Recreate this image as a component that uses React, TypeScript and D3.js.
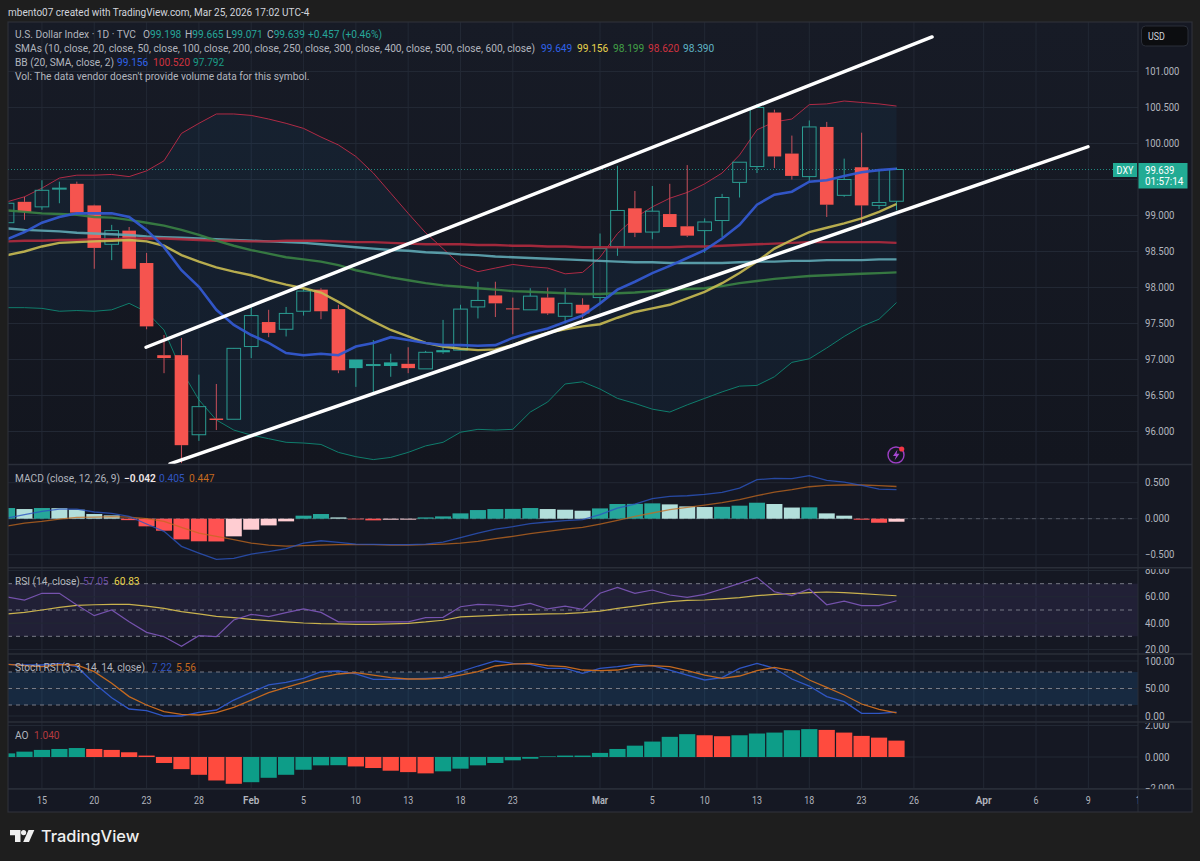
import * as d3 from 'd3';

// bars run Jan 13 .. Mar 25, daily (index 0 = Jan 13)
const opens = [98.90, 99.19, 99.12, 99.37, 99.44, 99.14, 98.60, 98.79, 98.34, 97.06, 97.06, 95.955, 96.18, 96.17, 97.18, 97.52, 97.42, 97.67, 97.97, 97.70, 96.88, 96.92, 96.91, 96.94, 96.87, 97.10, 97.13, 97.73, 97.89, 97.71, 97.69, 97.86, 97.60, 97.76, 97.86, 98.57, 99.10, 98.77, 99.02, 98.85, 98.79, 98.93, 99.46, 99.68, 100.43, 99.86, 99.54, 100.23, 99.28, 99.67, 99.14, 99.198];
const highs = [99.26, 99.26, 99.49, 99.47, 99.47, 99.15, 98.87, 98.84, 98.48, 97.34, 97.30, 96.79, 96.66, 97.16, 97.73, 97.69, 97.73, 97.98, 97.99, 97.76, 97.00, 97.27, 97.08, 97.17, 97.12, 97.55, 97.76, 98.08, 98.08, 97.86, 97.99, 98.00, 97.99, 97.85, 98.75, 99.69, 99.34, 99.41, 99.44, 99.70, 98.96, 99.30, 99.74, 100.55, 100.47, 100.11, 100.32, 100.30, 99.79, 100.15, 99.63, 99.665];
const lows = [98.88, 98.94, 99.08, 99.17, 99.01, 98.26, 98.38, 98.26, 97.42, 96.81, 95.56, 95.87, 96.02, 96.17, 97.02, 97.31, 97.32, 97.61, 97.56, 96.81, 96.62, 96.53, 96.76, 96.81, 96.87, 97.08, 97.13, 97.57, 97.59, 97.35, 97.69, 97.62, 97.50, 97.57, 97.78, 98.44, 98.70, 98.67, 98.84, 98.70, 98.48, 98.70, 99.25, 99.59, 99.66, 99.50, 99.48, 98.98, 99.26, 98.89, 99.09, 99.071];
const closes = [99.17, 99.05, 99.35, 99.38, 99.04, 98.55, 98.79, 98.26, 97.46, 97.02, 95.81, 96.345, 96.16, 97.155, 97.61, 97.37, 97.64, 97.95, 97.67, 96.85, 97.00, 96.93, 96.96, 96.88, 97.10, 97.13, 97.70, 97.82, 97.78, 97.70, 97.88, 97.64, 97.78, 97.64, 98.54, 99.07, 98.76, 99.06, 98.84, 98.72, 98.91, 99.25, 99.74, 100.50, 99.82, 99.55, 100.23, 99.15, 99.50, 99.14, 99.18, 99.639];
const solidUpBars = [20, 22, 25];

const sma10 = [98.67, 98.77, 98.90, 98.98, 99.03, 99.03, 99.03, 98.98, 98.80, 98.56, 98.24, 98.01, 97.69, 97.48, 97.34, 97.23, 97.09, 97.06, 97.08, 97.06, 97.18, 97.23, 97.31, 97.27, 97.23, 97.20, 97.20, 97.19, 97.20, 97.30, 97.37, 97.43, 97.52, 97.61, 97.78, 97.97, 98.08, 98.20, 98.30, 98.41, 98.52, 98.68, 98.87, 99.15, 99.29, 99.33, 99.47, 99.49, 99.55, 99.60, 99.63, 99.65];
const sma20 = [98.45, 98.50, 98.57, 98.62, 98.63, 98.64, 98.65, 98.66, 98.64, 98.58, 98.45, 98.36, 98.28, 98.22, 98.17, 98.10, 98.04, 97.99, 97.93, 97.80, 97.66, 97.53, 97.41, 97.32, 97.23, 97.18, 97.15, 97.13, 97.14, 97.20, 97.30, 97.37, 97.42, 97.46, 97.49, 97.58, 97.66, 97.71, 97.76, 97.85, 97.94, 98.06, 98.20, 98.36, 98.54, 98.66, 98.77, 98.83, 98.89, 98.96, 99.05, 99.16];
const sma50 = [99.07, 99.05, 99.03, 99.02, 99.01, 98.98, 98.97, 98.94, 98.90, 98.86, 98.80, 98.73, 98.65, 98.58, 98.52, 98.47, 98.42, 98.39, 98.36, 98.31, 98.24, 98.19, 98.14, 98.10, 98.06, 98.03, 98.01, 97.99, 97.97, 97.95, 97.94, 97.93, 97.92, 97.91, 97.91, 97.92, 97.93, 97.95, 97.97, 97.98, 97.99, 98.02, 98.06, 98.09, 98.12, 98.14, 98.16, 98.17, 98.18, 98.19, 98.20, 98.21];
const sma100 = [98.64, 98.65, 98.65, 98.66, 98.66, 98.67, 98.67, 98.68, 98.68, 98.68, 98.67, 98.66, 98.65, 98.65, 98.64, 98.64, 98.65, 98.65, 98.65, 98.64, 98.63, 98.63, 98.62, 98.61, 98.60, 98.60, 98.60, 98.59, 98.59, 98.58, 98.58, 98.57, 98.57, 98.56, 98.56, 98.56, 98.56, 98.56, 98.56, 98.57, 98.57, 98.58, 98.59, 98.60, 98.61, 98.62, 98.63, 98.63, 98.63, 98.63, 98.63, 98.62];
const sma200 = [98.82, 98.80, 98.79, 98.78, 98.76, 98.75, 98.74, 98.73, 98.71, 98.70, 98.69, 98.68, 98.67, 98.66, 98.65, 98.64, 98.63, 98.62, 98.60, 98.58, 98.56, 98.54, 98.52, 98.51, 98.49, 98.48, 98.46, 98.45, 98.43, 98.42, 98.41, 98.40, 98.39, 98.38, 98.37, 98.36, 98.35, 98.35, 98.34, 98.34, 98.34, 98.34, 98.35, 98.36, 98.36, 98.37, 98.37, 98.38, 98.38, 98.38, 98.39, 98.39];
const bbUpper = [99.19, 99.26, 99.38, 99.52, 99.56, 99.56, 99.57, 99.54, 99.62, 99.76, 100.14, 100.28, 100.41, 100.41, 100.39, 100.34, 100.28, 100.21, 100.09, 99.98, 99.82, 99.59, 99.31, 99.03, 98.76, 98.54, 98.31, 98.22, 98.27, 98.32, 98.29, 98.27, 98.19, 98.21, 98.42, 98.75, 98.97, 99.12, 99.24, 99.32, 99.44, 99.59, 99.84, 100.19, 100.30, 100.34, 100.54, 100.55, 100.59, 100.57, 100.55, 100.52];
const bbLower = [97.72, 97.72, 97.71, 97.67, 97.68, 97.67, 97.69, 97.78, 97.66, 97.41, 96.85, 96.44, 96.16, 96.02, 95.95, 95.90, 95.85, 95.84, 95.82, 95.71, 95.65, 95.61, 95.64, 95.71, 95.80, 95.85, 95.99, 96.03, 96.02, 96.03, 96.27, 96.41, 96.66, 96.69, 96.59, 96.46, 96.39, 96.31, 96.27, 96.37, 96.46, 96.55, 96.63, 96.64, 96.76, 96.96, 97.01, 97.16, 97.32, 97.46, 97.56, 97.79];

const macdHist = [0.148, 0.134, 0.148, 0.146, 0.125, 0.065, 0.046, -0.02, -0.106, -0.167, -0.287, -0.314, -0.316, -0.245, -0.153, -0.093, -0.037, 0.042, 0.065, 0.018, -0.01, -0.023, -0.014, -0.013, 0.018, 0.032, 0.074, 0.12, 0.134, 0.136, 0.148, 0.134, 0.125, 0.111, 0.143, 0.204, 0.206, 0.213, 0.199, 0.171, 0.162, 0.165, 0.181, 0.222, 0.204, 0.155, 0.158, 0.074, 0.042, -0.014, -0.056, -0.042];
const macdLine = [0.01, 0.056, 0.102, 0.134, 0.134, 0.093, 0.074, 0.032, -0.074, -0.176, -0.384, -0.477, -0.565, -0.551, -0.491, -0.458, -0.417, -0.338, -0.306, -0.329, -0.352, -0.356, -0.361, -0.361, -0.352, -0.324, -0.264, -0.199, -0.144, -0.111, -0.069, -0.046, -0.028, -0.014, 0.056, 0.148, 0.204, 0.278, 0.31, 0.319, 0.338, 0.366, 0.426, 0.542, 0.56, 0.556, 0.597, 0.532, 0.509, 0.463, 0.412, 0.405];
const macdSignal = [-0.102, -0.06, -0.037, -0.005, 0.019, 0.023, 0.028, 0.023, 0, -0.037, -0.12, -0.199, -0.245, -0.292, -0.338, -0.366, -0.38, -0.375, -0.366, -0.361, -0.361, -0.361, -0.366, -0.366, -0.361, -0.352, -0.338, -0.315, -0.278, -0.245, -0.208, -0.176, -0.144, -0.12, -0.074, -0.023, 0.032, 0.079, 0.125, 0.157, 0.19, 0.222, 0.264, 0.319, 0.37, 0.403, 0.444, 0.463, 0.468, 0.468, 0.458, 0.447];

const rsi = [60, 57.6, 62.7, 62.7, 53.8, 45.7, 50, 41, 33, 29.7, 22.4, 30.5, 29.7, 42.4, 46.7, 44.9, 48, 50.8, 48.2, 41, 41, 41, 41, 41, 44.2, 44.4, 52.5, 54.3, 53.8, 52.5, 55, 50.8, 53, 50.5, 62.7, 67.2, 62.7, 65.2, 61.4, 59.6, 61.9, 66, 70.3, 74.8, 63.9, 60.9, 66, 54, 56.8, 53.3, 53.3, 57.05];
const rsiMa = [47, 48.2, 50, 52, 53.5, 54, 54.3, 54.3, 53, 51.3, 48.7, 47, 45.2, 44.2, 42.9, 41.9, 40.9, 40.1, 39.6, 39.4, 39.1, 39.1, 39.4, 39.9, 40.9, 42.2, 44.7, 45.4, 45.9, 46.5, 46.7, 47, 47.2, 48, 49.2, 51.3, 53, 54.8, 56.3, 57.3, 57.6, 58.4, 59.4, 60.9, 61.9, 62.4, 63.2, 63.7, 63.2, 62.4, 61.6, 60.83];

const stochK = [94, 92.7, 92.7, 95.8, 89.7, 59.4, 33.3, 12.7, 9.7, 0, 0, 6.7, 10.9, 29, 43, 56.4, 61.2, 68.5, 80.6, 81.8, 76.4, 66.7, 66.7, 67.3, 68.5, 70.3, 80.6, 90.9, 100, 95.8, 93.9, 86.7, 86.7, 77.6, 86.7, 89.7, 93.9, 91.5, 83.6, 74.5, 65.5, 69.7, 86.7, 95.8, 86.7, 67.3, 54.5, 35.2, 26, 4.8, 4.8, 7.22];
const stochD = [94, 91.5, 89.7, 93.3, 92.7, 80.6, 59.4, 35.2, 20, 7.9, 3, 1.8, 6, 15.8, 29, 42.4, 52, 61.2, 70.3, 76.4, 78.8, 74.5, 69.7, 67.3, 67.3, 69, 74.5, 80.6, 90.9, 94.5, 95.8, 91.5, 89.7, 83.6, 82.4, 83.6, 89.7, 91.5, 89.7, 82.4, 74.5, 68.5, 72.7, 82.4, 88.5, 82.4, 65.5, 52, 38.2, 21.8, 12.1, 5.56];

const ao = [0.23, 0.34, 0.45, 0.51, 0.57, 0.51, 0.45, 0.3, 0.09, -0.38, -0.77, -1.13, -1.49, -1.7, -1.6, -1.32, -1.13, -0.81, -0.53, -0.52, -0.6, -0.7, -0.87, -0.96, -1.04, -0.91, -0.74, -0.53, -0.38, -0.21, -0.11, 0.04, 0.09, 0.09, 0.26, 0.51, 0.72, 0.98, 1.28, 1.45, 1.38, 1.32, 1.38, 1.49, 1.55, 1.7, 1.77, 1.72, 1.55, 1.34, 1.23, 1.04];

// trendlines as [bar, price]
const upperChannel = [[7.97, 97.17], [53.04, 101.48]];
const lowerChannel = [[9.34, 95.55], [61.98, 99.955]];

const timeTicks = ['15', '20', '23', '28', 'Feb', '5', '10', '13', '18', '23', 'Mar', '5', '10', '13', '18', '23', '26', 'Apr', '6', '9', '14'];
const timeTickBars = [2, 5, 8, 11, 14, 17, 20, 23, 26, 29, 34, 37, 40, 43, 46, 49, 52, 56, 59, 62, 65];
const priceTicks = [101, 100.5, 100, 99.5, 99, 98.5, 98, 97.5, 97, 96.5, 96];
const priceLabels = [101, 100.5, 100, 99, 98.5, 98, 97.5, 97, 96.5, 96];
const macdTicks = [0.5, 0, -0.5];
const rsiTicks = [80, 60, 40, 20];
const stochTicks = [100, 50, 0];
const aoTicks = [2, 0, -2];

const LEFT = 8;
const AXIS = 1138;
const RIGHT = 1192;
const font = 'Roboto, "Liberation Sans", sans-serif';
const TEAL = '#26a69a';
const RED = '#f5544f';
const LEGEND = 10.2;

const x = d3.scaleLinear().domain([0, 51]).range([7.06, 896.5]);
const yMain = d3.scaleLinear().domain([96, 101]).range([431.5, 71.5]);
const yMacd = d3.scaleLinear().domain([-0.5, 0.5]).range([554.7, 482.7]);
const yRsi = d3.scaleLinear().domain([30, 70]).range([636.3, 583.7]);
const yStoch = d3.scaleLinear().domain([0, 100]).range([716, 661]);
const yAo = d3.scaleLinear().domain([-2, 2]).range([788.5, 725.5]);

const pathOf = (values: number[], y: d3.ScaleLinear<number, number>) =>
  d3.line<number>().x((_, i) => x(i)).y(v => y(v))(values) || '';

const bandPath = d3.area<number>()
  .x((_, i) => x(i))
  .y0((_, i) => yMain(bbLower[i]))
  .y1(v => yMain(v))(bbUpper) || '';

const trendPath = (pts: number[][]) =>
  d3.line<number[]>().x(d => x(d[0])).y(d => yMain(d[1]))(pts) || '';

const macdColor = (v: number, i: number) => {
  const prev = i > 0 ? macdHist[i - 1] : -1;
  if (v >= 0) return v > prev ? '#26a69a' : '#b2dfdb';
  return v < prev ? '#ff5252' : '#ffcdd2';
};

const Txt = ({ x: tx, y, c = '#b2b5be', w = 400, children }: any) => (
  <text x={tx} y={y} fill={c} fontSize={LEGEND} fontWeight={w} dominantBaseline="central">
    {children}
  </text>
);

// axis digits in the picture are narrower than Roboto, so squeeze them a little
const AxisTxt = ({ x: tx = 1145, y, c = '#b2b5be', clip, anchor, w = 400, per = 4.9, children }: any) => (
  <text
    x={tx}
    y={y}
    fill={c}
    fontSize={10.6}
    fontWeight={w}
    clipPath={clip}
    textAnchor={anchor}
    dominantBaseline="central"
    textLength={String(children).length * per}
    lengthAdjust="spacingAndGlyphs"
  >
    {children}
  </text>
);

const Candles = () => (
  <g>
    {closes.map((c, i) => {
      const o = opens[i];
      const up = c >= o;
      const color = up ? TEAL : RED;
      const wick = up ? '#2b9d92' : '#c9505b';
      const top = yMain(Math.max(o, c));
      const bottom = yMain(Math.min(o, c));
      const px = x(i);
      const solid = !up || solidUpBars.includes(i);
      return (
        <g key={i}>
          <line x1={px} x2={px} y1={yMain(highs[i])} y2={top} stroke={wick} />
          <line x1={px} x2={px} y1={bottom} y2={yMain(lows[i])} stroke={wick} />
          <rect
            x={px - 6.8}
            y={top}
            width={13.6}
            height={Math.max(bottom - top, 1)}
            fill={solid ? color : 'none'}
            stroke={solid ? 'none' : '#2b9d92'}
          />
        </g>
      );
    })}
  </g>
);

const Dash = ({ y }: { y: number }) => (
  <line x1={LEFT} x2={AXIS - 4} y1={y} y2={y} stroke="#787b86" strokeDasharray="4 4" />
);

const HGrid = ({ ys }: { ys: number[] }) => (
  <g>
    {ys.map(y => <line key={y} x1={LEFT} x2={AXIS} y1={y} y2={y} stroke="#222834" />)}
  </g>
);

export default function App() {
  return (
    <svg
      width={1200}
      height={861}
      style={{ position: 'absolute', left: 0, top: 0, fontFamily: font }}
    >
      <defs>
        <clipPath id="main"><rect x={LEFT} y={22} width={AXIS - LEFT} height={442} /></clipPath>
        <clipPath id="macd"><rect x={LEFT} y={465} width={AXIS - LEFT} height={103} /></clipPath>
        <clipPath id="rsi"><rect x={LEFT} y={569} width={AXIS - LEFT} height={85} /></clipPath>
        <clipPath id="stoch"><rect x={LEFT} y={655} width={AXIS - LEFT} height={67} /></clipPath>
        <clipPath id="aop"><rect x={LEFT} y={723} width={AXIS - LEFT} height={66} /></clipPath>
        <clipPath id="times"><rect x={LEFT} y={790} width={AXIS - LEFT} height={22} /></clipPath>
        <clipPath id="axRsi"><rect x={AXIS} y={569} width={54} height={85} /></clipPath>
        <clipPath id="axAo"><rect x={AXIS} y={723} width={54} height={66} /></clipPath>
        <linearGradient id="bg" x1="0" x2="0" y1="0" y2="1">
          <stop offset="0" stopColor="#171b26" />
          <stop offset="1" stopColor="#13161f" />
        </linearGradient>
      </defs>

      <rect width={1200} height={861} fill="#1e1e1e" />
      <rect x={LEFT} y={22} width={RIGHT - LEFT} height={790} fill="#151823" />
      <rect x={LEFT} y={22} width={AXIS - LEFT} height={442} fill="url(#bg)" />
      <text x={8} y={12} fill="#d1d4dc" fontSize={10} dominantBaseline="central">
        mbento07 created with TradingView.com, Mar 25, 2026 17:02 UTC-4
      </text>

      {/* vertical grid */}
      {timeTickBars.map((b, i) => (
        <line key={i} x1={x(b)} x2={x(b)} y1={22} y2={789} stroke="#222834" opacity={x(b) > AXIS ? 0 : 1} />
      ))}

      {/* main pane */}
      <HGrid ys={priceTicks.map(v => yMain(v))} />
      <g clipPath="url(#main)">
        <path d={bandPath} fill="#2196f3" opacity={0.06} />
        <line x1={LEFT} x2={1113} y1={yMain(99.639)} y2={yMain(99.639)} stroke="#26a69a" strokeDasharray="1 2" opacity={0.8} />
        <path d={pathOf(bbUpper, yMain)} fill="none" stroke="#b02a45" strokeWidth={1} />
        <path d={pathOf(bbLower, yMain)} fill="none" stroke="#0f7d6c" strokeWidth={1} />
        <Candles />
        <path d={pathOf(sma200, yMain)} fill="none" stroke="#5fa8b5" strokeWidth={2.4} opacity={0.9} />
        <path d={pathOf(sma100, yMain)} fill="none" stroke="#b02a3e" strokeWidth={2.4} opacity={0.9} />
        <path d={pathOf(sma50, yMain)} fill="none" stroke="#3a8244" strokeWidth={2.4} opacity={0.9} />
        <path d={pathOf(sma20, yMain)} fill="none" stroke="#c9bb52" strokeWidth={2.4} opacity={0.9} />
        <path d={pathOf(sma10, yMain)} fill="none" stroke="#3359cf" strokeWidth={2.6} opacity={0.95} />
        <path d={trendPath(upperChannel)} fill="none" stroke="#fff" strokeWidth={3.4} strokeLinecap="round" />
        <path d={trendPath(lowerChannel)} fill="none" stroke="#fff" strokeWidth={3.4} strokeLinecap="round" />
      </g>

      {/* bolt badge */}
      <circle cx={896} cy={455} r={8} fill="none" stroke="#9c3fc4" strokeWidth={1.4} />
      <path d="M897.5 449.5 L893 456 L896 456 L894.5 460.5 L899.5 453.8 L896.5 453.8 Z" fill="#a648d0" />
      <circle cx={901.7} cy={449} r={2.6} fill="#f23645" />

      {/* macd */}
      <HGrid ys={macdTicks.map(v => yMacd(v))} />
      <g clipPath="url(#macd)">
        <line x1={LEFT} x2={AXIS - 4} y1={yMacd(0)} y2={yMacd(0)} stroke="#787b86" strokeDasharray="4 4" opacity={0.6} />
        {macdHist.map((v, i) => (
          <rect
            key={i}
            x={x(i) - 8}
            y={Math.min(yMacd(v), yMacd(0))}
            width={16}
            height={Math.abs(yMacd(v) - yMacd(0))}
            fill={macdColor(v, i)}
          />
        ))}
        <path d={pathOf(macdSignal, yMacd)} fill="none" stroke="#c46a1f" strokeWidth={1.3} opacity={0.75} />
        <path d={pathOf(macdLine, yMacd)} fill="none" stroke="#2c55c0" strokeWidth={1.3} opacity={0.8} />
      </g>

      {/* rsi */}
      <rect x={LEFT} y={yRsi(70)} width={AXIS - LEFT} height={yRsi(30) - yRsi(70)} fill="#7e57c2" opacity={0.12} />
      <HGrid ys={rsiTicks.map(v => yRsi(v))} />
      <Dash y={yRsi(70)} />
      <Dash y={yRsi(50)} />
      <Dash y={yRsi(30)} />
      <g clipPath="url(#rsi)">
        <path d={pathOf(rsiMa, yRsi)} fill="none" stroke="#c9b24e" strokeWidth={1.2} />
        <path d={pathOf(rsi, yRsi)} fill="none" stroke="#7552ad" strokeWidth={1.2} />
      </g>

      {/* stoch rsi */}
      <rect x={LEFT} y={yStoch(80)} width={AXIS - LEFT} height={yStoch(20) - yStoch(80)} fill="#2196f3" opacity={0.14} />
      <HGrid ys={stochTicks.map(v => yStoch(v))} />
      <Dash y={yStoch(80)} />
      <Dash y={yStoch(50)} />
      <Dash y={yStoch(20)} />
      <g clipPath="url(#stoch)">
        <path d={pathOf(stochK, yStoch)} fill="none" stroke="#2f56c4" strokeWidth={1.3} />
        <path d={pathOf(stochD, yStoch)} fill="none" stroke="#c4691f" strokeWidth={1.3} />
      </g>

      {/* awesome oscillator */}
      <HGrid ys={aoTicks.map(v => yAo(v))} />
      <g clipPath="url(#aop)">
        {ao.map((v, i) => (
          <rect
            key={i}
            x={x(i) - 8.1}
            y={Math.min(yAo(v), yAo(0))}
            width={16.2}
            height={Math.abs(yAo(v) - yAo(0))}
            fill={i === 0 || v >= ao[i - 1] ? '#0d9d88' : '#ff4b3e'}
          />
        ))}
      </g>

      {/* frame and dividers */}
      {[464.5, 567.8, 654, 722, 789].map(y => (
        <line key={y} x1={LEFT} x2={RIGHT} y1={y} y2={y} stroke="#2a2e39" strokeWidth={1.4} />
      ))}
      <line x1={AXIS} x2={AXIS} y1={22} y2={812} stroke="#2a2e39" />
      <rect x={LEFT} y={22} width={RIGHT - LEFT} height={790} fill="none" stroke="#2e3038" strokeWidth={1.2} />

      {/* legends */}
      <Txt x={15} y={34}>U.S. Dollar Index · 1D · TVC</Txt>
      <Txt x={143} y={34}>O<tspan fill={TEAL}>99.198</tspan></Txt>
      <Txt x={185} y={34}>H<tspan fill={TEAL}>99.665</tspan></Txt>
      <Txt x={226} y={34}>L<tspan fill={TEAL}>99.071</tspan></Txt>
      <Txt x={267} y={34}>C<tspan fill={TEAL}>99.639</tspan></Txt>
      <Txt x={308} y={34} c={TEAL}>+0.457 (+0.46%)</Txt>
      <Txt x={15} y={48}>SMAs (10, close, 20, close, 50, close, 100, close, 200, close, 250, close, 300, close, 400, close, 500, close, 600, close)</Txt>
      <Txt x={541} y={48} c="#2f62e8">99.649</Txt>
      <Txt x={577} y={48} c="#e8d44d">99.156</Txt>
      <Txt x={613} y={48} c="#43a047">98.199</Txt>
      <Txt x={648} y={48} c="#d0323f">98.620</Txt>
      <Txt x={683} y={48} c="#5fb3c4">98.390</Txt>
      <Txt x={15} y={62}>BB (20, SMA, close, 2)</Txt>
      <Txt x={117} y={62} c="#2f62e8">99.156</Txt>
      <Txt x={153} y={62} c="#d0323f">100.520</Txt>
      <Txt x={193} y={62} c="#1a9c87">97.792</Txt>
      <Txt x={15} y={76}>Vol: The data vendor doesn't provide volume data for this symbol.</Txt>

      <Txt x={15} y={478}>MACD (close, 12, 26, 9)</Txt>
      <Txt x={124} y={478} c="#f0e6e6" w={600}>−0.042</Txt>
      <Txt x={159} y={478} c="#2f55c0">0.405</Txt>
      <Txt x={189} y={478} c="#c4691f">0.447</Txt>

      <Txt x={15} y={581.5}>RSI (14, close)</Txt>
      <Txt x={83} y={581.5} c="#6b4ca3">57.05</Txt>
      <Txt x={114} y={581.5} c="#e8d44d">60.83</Txt>

      <Txt x={15} y={667}>Stoch RSI (3, 3, 14, 14, close)</Txt>
      <Txt x={152} y={667} c="#2f55c0">7.22</Txt>
      <Txt x={176} y={667} c="#c4691f">5.56</Txt>

      <Txt x={15} y={735}>AO</Txt>
      <Txt x={34} y={735} c="#b33a3f">1.040</Txt>

      {/* price axes */}
      {priceLabels.map(v => (
        <AxisTxt key={v} y={yMain(v)}>{v.toFixed(3)}</AxisTxt>
      ))}
      {macdTicks.map(v => (
        <AxisTxt key={v} y={yMacd(v)}>{v.toFixed(3).replace('-', '−')}</AxisTxt>
      ))}
      {rsiTicks.map(v => (
        <AxisTxt key={v} y={yRsi(v)} clip="url(#axRsi)">{v.toFixed(2)}</AxisTxt>
      ))}
      {stochTicks.map(v => (
        <AxisTxt key={v} y={yStoch(v)}>{v.toFixed(2)}</AxisTxt>
      ))}
      {aoTicks.map(v => (
        <AxisTxt key={v} y={yAo(v)} clip="url(#axAo)">{v.toFixed(3).replace('-', '−')}</AxisTxt>
      ))}

      {/* time axis */}
      <g clipPath="url(#times)">
        {timeTicks.map((t, i) => (
          <AxisTxt
            key={i}
            x={x(timeTickBars[i])}
            y={800.5}
            anchor="middle"
            w={isNaN(+t) ? 600 : 400}
            per={isNaN(+t) ? 5.4 : 5}
          >
            {t}
          </AxisTxt>
        ))}
      </g>

      {/* symbol badges */}
      <rect x={1113} y={163} width={24} height={14} fill="#22ab94" />
      <AxisTxt x={1125} y={170} c="#fff" anchor="middle" per={5.6}>DXY</AxisTxt>
      <rect x={1138.5} y={163} width={49} height={25.5} fill="#22ab94" />
      <AxisTxt y={170} c="#fff">99.639</AxisTxt>
      <AxisTxt y={181.5} c="#fff" per={4.8}>01:57:14</AxisTxt>

      <rect x={1141.5} y={26} width={46.5} height={20} rx={4} fill="#0c0d10" stroke="#2a2e39" />
      <AxisTxt x={1148} y={36.5} c="#d1d4dc" per={5.6}>USD</AxisTxt>

      {/* footer logo */}
      <path d="M10 830 H20.5 V842 H15 V835.3 H10 Z" fill="#f0f0f0" />
      <circle cx={23.6} cy={832.6} r={2.6} fill="#f0f0f0" />
      <path d="M28.5 830 H34.3 L29 842 H23.2 Z" fill="#f0f0f0" />
      <text x={41} y={836} fill="#f0f0f0" fontSize={16.4} fontWeight={500} fontFamily="Inter, Roboto, sans-serif" dominantBaseline="central">TradingView</text>
    </svg>
  );
}
